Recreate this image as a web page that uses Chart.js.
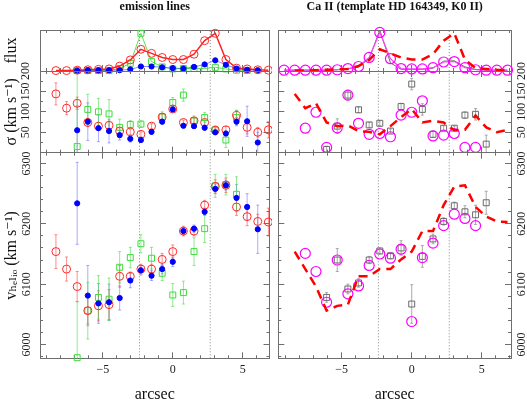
<!DOCTYPE html>
<html>
<head>
<meta charset="utf-8">
<script src="https://cdn.jsdelivr.net/npm/chart.js@4.4.1/dist/chart.umd.min.js"></script>
<style>
  html, body { margin: 0; padding: 0; background: #fff; }
  #page { position: relative; width: 527px; height: 400px; overflow: hidden; background: #fff; }
  canvas { position: absolute; }
</style>
</head>
<body>
<div id="page"></div>
<script>
// slit positions (arcsec)
const emPos = [-8.36, -7.60, -6.84, -6.08, -5.32, -4.56, -3.80, -3.04, -2.28, -1.52, -0.76, 0.00,
               0.76, 1.52, 2.28, 3.04, 3.80, 4.56, 5.32, 6.08, 6.84];
const caPos = [-9.12, -8.36, -7.60, -6.84, -6.08, -5.32, -4.56, -3.80, -3.04, -2.28, -1.52, -0.76, 0.00,
               0.76, 1.52, 2.28, 3.04, 3.80, 4.56, 5.32, 6.08, 6.84];
const dottedX = [-2.38, 2.68];

// emission lines
const fluxRed   = [0.01, 0.01, 0.02, 0.03, 0.04, 0.05, 0.12, 0.27, 0.53, 0.43, 0.33, 0.28, 0.28, 0.41, 0.74, 0.92, 0.28, 0.07, 0.05, 0.03, 0.02];
const fluxBlue  = [null, null, 0.01, 0.02, 0.02, 0.02, 0.02, 0.04, 0.11, 0.11, 0.09, 0.07, 0.06, 0.10, 0.16, 0.26, 0.15, 0.06, 0.03, 0.02, null];
const fluxGreen = [null, null, 0.01, 0.01, 0.01, 0.01, 0.06, 0.19, 0.92, 0.23, 0.10, 0.05, 0.06, 0.06, 0.06, 0.09, 0.05, 0.02, 0.01, null, null];

const sigRed      = [144, 109, 121, 74, 65, 67, 53, 51, 45, 65, 87, 107, 74, 78, 74, 55, 56, 91, 62, 50, 56];
const sigRedErr   = [27, 16, 15, 10, 9, 10, 8, 7, 6, 6, 7, 6, 6, 6, 6, 6, 8, 12, 16, 12, 20];
const sigBlue     = [null, null, 55, 76, 60, 53, 43, 34, 31, 51, 76, 106, 66, 65, 61, 50, 47, 76, 77, 25, null];
const sigBlueErr  = [null, null, 60, 46, 33, 29, 12, 8, 5, 6, 6, 6, 5, 5, 5, 6, 6, 10, 37, 25, null];
const sigGreen    = [null, null, 15, 106, 100, 95, 62, 69, 70, null, 88, 123, 141, 78, 86, 56, 31, 86, null, null, null];
const sigGreenErr = [null, null, 190, 37, 33, 35, 20, 10, 8, null, 12, 12, 15, 12, 12, 10, 18, 18, null, null, null];

const vRed      = [6154, 6125, 6096, 6056, 6064, 6066, 6113, 6113, 6125, 6125, 6141, 6154, 6188, 6188, 6231, 6262, 6264, 6228, 6212, 6204, 6203];
const vRedErr   = [28, 20, 25, 22, 25, 25, 18, 7, 8, 8, 10, 11, 8, 8, 8, 11, 12, 14, 15, 12, 23];
const vBlue     = [null, null, 6234, 6081, 6068, 6070, 6077, 6106, 6123, 6114, 6125, 6137, 6188, 6192, 6220, 6258, 6264, 6243, 6228, 6191, null];
const vBlueErr  = [null, null, 68, 50, 33, 30, 20, 12, 8, 8, 8, 8, 6, 6, 6, 8, 8, 22, 22, 40, null];
const vGreen    = [null, null, 5978, 6056, 6078, 6075, 6128, 6144, 6167, 6143, 6118, 6082, 6086, 6154, 6192, 6263, 6265, 6249, null, null, null];
const vGreenErr = [null, null, 93, 47, 36, 35, 26, 17, 15, 18, 12, 19, 19, 23, 23, 19, 17, 29, null, null, null];

// Ca II
const fluxMag  = [0.02, 0.02, 0.02, 0.02, 0.02, 0.03, 0.06, 0.11, 0.33, 0.94, 0.30, 0.06, 0.05, 0.05, 0.08, 0.22, 0.23, 0.08, 0.03, 0.02, 0.02, 0.02];
const fluxGrey = [0.02, 0.02, 0.02, 0.02, 0.02, 0.03, 0.05, 0.10, 0.30, 1.00, 0.20, 0.04, 0.04, 0.04, 0.07, 0.24, 0.25, 0.10, 0.04, 0.02, 0.02, 0.02];
const sigMag     = [null, null, 60, 99, 13, 61, 141, 72, 45, 47, 39, 92, 99, 127, 41, 43, 47, 13, 13, null, null, null];
const sigGrey    = [null, null, null, null, 8, 65, 141, 105, 68, 72, 53, 113, 168, 106, 45, 60, 60, 92, 94, 21, null, null];
const sigGreyErr = [null, null, null, null, 8, 18, 12, 7, 6, 6, 5, 8, 14, 14, 8, 6, 5, 8, 14, 22, null, null];
const vMag     = [null, null, 6151, 6121, 6070, 6140, 6084, 6097, 6131, 6150, 6143, 6158, 6038, 6144, 6168, 6197, 6216, 6209, 6197, null, null, null];
const vGrey    = [null, null, null, null, 6078, 6140, 6092, 6102, 6140, 6155, 6147, 6160, 6067, 6146, 6175, 6204, 6230, 6220, 6215, 6235, null, null];
const vGreyErr = [null, null, null, null, 8, 19, 8, 7, 6, 5, 5, 12, 32, 18, 8, 6, 6, 10, 16, 19, null, null];

// axes
const xTickLabels = [-5, 0, 5];
const sigmaTickLabels = [50, 100, 150, 200];
const vTickLabels = [6000, 6100, 6200, 6300];
const fluxRange = [0, 1];
const sigmaRange = [0, 200];
const vRange = [5977, 6318];

// page layout (canvas boxes and plot areas, px)
const COLS = [
  { left: 0, width: 272, l: 40, r: 269.5, xr: [-9.5, 6.92], title: 'emission lines' },
  { left: 275, width: 252, l: 278.3, r: 511, xr: [-9.53, 7.09], title: 'Ca II (template HD 164349, K0 II)' }
];
const ROWS = [
  { top: 0, height: 80, t: 30, b: 71, title: 'flux' },
  { top: 55, height: 110, t: 71, b: 152.7, title: 'σ (km s⁻¹)' },
  { top: 140, height: 260, t: 152.7, b: 358.3, title: 'vₕₑₗᵢₒ (km s⁻¹)' }
];

const AXIS = '#6e6e6e';
const SERIF = "'Liberation Serif', 'DejaVu Serif', serif";

// vertical error bars, drawn under the markers
const errorBars = {
  id: 'errorBars',
  beforeDatasetsDraw(chart) {
    const { ctx, chartArea } = chart;
    ctx.save();
    ctx.beginPath();
    ctx.rect(chartArea.left, chartArea.top, chartArea.right - chartArea.left, chartArea.bottom - chartArea.top);
    ctx.clip();
    chart.data.datasets.forEach(ds => {
      if (!ds.errors) return;
      const xs = chart.scales.x, ys = chart.scales.y;
      ctx.strokeStyle = ds.errorColor;
      ctx.lineWidth = 1;
      ds.data.forEach((p, j) => {
        const e = ds.errors[j];
        if (p.y === null || e === null) return;
        const px = xs.getPixelForValue(p.x);
        const hi = ys.getPixelForValue(p.y + e);
        const lo = ys.getPixelForValue(p.y - e);
        ctx.beginPath();
        ctx.moveTo(px, hi); ctx.lineTo(px, lo);
        ctx.moveTo(px - 1.5, hi); ctx.lineTo(px + 1.5, hi);
        ctx.moveTo(px - 1.5, lo); ctx.lineTo(px + 1.5, lo);
        ctx.stroke();
      });
    });
    ctx.restore();
  }
};

function points(xs, ys) {
  return xs.map((x, i) => ({ x: x, y: ys[i] }));
}

function sized(w, h) {
  return s => {
    if (w !== null) s.width = w;
    if (h !== null) s.height = h;
    s.paddingLeft = 0; s.paddingRight = 0; s.paddingTop = 0; s.paddingBottom = 0;
  };
}

function axis(position, range, step, size, opt) {
  const horizontal = position === 'top' || position === 'bottom';
  const labels = opt.labels || null;
  return {
    type: 'linear',
    position: position,
    min: range[0],
    max: range[1],
    weight: opt.major ? -1 : 0,
    afterFit: horizontal ? sized(null, size) : sized(size, null),
    border: { display: !opt.major, color: AXIS, width: 1 },
    grid: {
      display: !!step,
      drawOnChartArea: false,
      drawTicks: !!step,
      tickLength: opt.major ? -6 : -3,
      color: AXIS
    },
    ticks: {
      display: !!labels,
      stepSize: step || undefined,
      autoSkip: false,
      includeBounds: false,
      minRotation: horizontal ? 0 : 90,
      maxRotation: horizontal ? 0 : 90,
      crossAlign: horizontal ? 'near' : 'center',
      padding: opt.pad || 0,
      color: '#222',
      font: { family: SERIF, size: 12 },
      callback: v => (labels && labels.includes(v)) ? String(v).replace('-', '\u2212') : ''
    },
    title: opt.title
      ? { display: true, text: opt.title, color: '#111', font: opt.titleFont, padding: opt.titlePad }
      : { display: false }
  };
}

function panel(col, row, yRange, yStep, yMajor, yLabels, labelPad, datasets) {
  const c = COLS[col], r = ROWS[row];
  const cv = document.createElement('canvas');
  cv.width = c.width;
  cv.height = r.height;
  cv.style.left = c.left + 'px';
  cv.style.top = r.top + 'px';
  document.getElementById('page').appendChild(cv);

  const topH = r.t - r.top, botH = r.top + r.height - r.b;
  const leftW = c.l - c.left, rightW = c.left + c.width - c.r;

  const scales = {
    x: axis('bottom', c.xr, 1, botH, {
      labels: row === 2 ? xTickLabels : null, pad: 7.5,
      title: row === 2 ? 'arcsec' : null,
      titleFont: { family: SERIF, size: 16 }, titlePad: { top: 0, bottom: -4.5 }
    }),
    x2: axis('top', c.xr, 1, topH, {
      title: row === 0 ? c.title : null,
      titleFont: { family: SERIF, size: 12, weight: 'bold' }, titlePad: { top: 0, bottom: 0 }
    }),
    xM: axis('bottom', c.xr, 5, 0, { major: true }),
    x2M: axis('top', c.xr, 5, 0, { major: true }),
    y: axis('left', yRange, yStep, leftW, {
      labels: col === 0 ? yLabels : null, pad: labelPad,
      title: col === 0 ? r.title : null,
      titleFont: { family: SERIF, size: 16 }, titlePad: { top: 2, bottom: 0 }
    }),
    y2: axis('right', yRange, yStep, rightW, { labels: col === 1 ? yLabels : null, pad: labelPad })
  };
  if (yMajor) {
    scales.yM = axis('left', yRange, yMajor, 0, { major: true });
    scales.y2M = axis('right', yRange, yMajor, 0, { major: true });
  }

  const guides = dottedX.map(x => ({
    data: [{ x: x, y: yRange[0] }, { x: x, y: yRange[1] }],
    showLine: true, borderColor: '#8a8a8a', borderWidth: 1, borderDash: [1, 2],
    pointRadius: 0, order: 20, xAxisID: 'x', yAxisID: 'y'
  }));

  new Chart(cv, {
    type: 'scatter',
    data: { datasets: datasets.concat(guides) },
    options: {
      responsive: false,
      animation: false,
      devicePixelRatio: 1,
      events: [],
      layout: { padding: 0, autoPadding: false },
      plugins: { legend: { display: false }, tooltip: { enabled: false } },
      scales: scales
    },
    plugins: [errorBars]
  });
}

function series(xs, ys, style, errors, errorColor) {
  return Object.assign({
    data: points(xs, ys), xAxisID: 'x', yAxisID: 'y', clip: false,
    showLine: false, errors: errors || null, errorColor: errorColor
  }, style);
}

const RED = { pointStyle: 'circle', pointRadius: 4, pointBorderColor: '#ff2a2a', pointBackgroundColor: 'rgba(0,0,0,0)', pointBorderWidth: 1, borderColor: '#ff2020', borderWidth: 1.5 };
const BLUE = { pointStyle: 'circle', pointRadius: 2.6, pointBorderColor: '#0000ff', pointBackgroundColor: '#0000ff', pointBorderWidth: 1, borderColor: 'rgba(40,40,255,0.55)', borderWidth: 1 };
const GREEN = { pointStyle: 'rect', pointRadius: 4.2, pointBorderColor: '#3ddc3d', pointBackgroundColor: 'rgba(0,0,0,0)', pointBorderWidth: 1, borderColor: '#5ae35a', borderWidth: 1 };
const MAG = { pointStyle: 'circle', pointRadius: 5, pointBorderColor: '#ff00ff', pointBackgroundColor: 'rgba(0,0,0,0)', pointBorderWidth: 1.2, borderColor: '#ff40ff', borderWidth: 1.2 };
const GREY = { pointStyle: 'rect', pointRadius: 4.2, pointBorderColor: '#6a6a6a', pointBackgroundColor: 'rgba(0,0,0,0)', pointBorderWidth: 1, borderColor: '#6a6a6a', borderWidth: 1 };
const DASH = { pointRadius: 0, showLine: true, borderColor: '#ff0000', borderWidth: 2.5, borderDash: [9, 6] };

const ERR_RED = 'rgba(255,70,70,0.6)';
const ERR_BLUE = 'rgba(70,70,255,0.45)';
const ERR_GREEN = 'rgba(70,220,70,0.6)';
const ERR_GREY = 'rgba(150,150,150,0.8)';

// emission lines column
panel(0, 0, fluxRange, 0, 0, null, 0, [
  series(emPos, fluxBlue, Object.assign({}, BLUE, { showLine: true, order: 0 })),
  series(emPos, fluxRed, Object.assign({}, RED, { showLine: true, order: 1 })),
  series(emPos, fluxGreen, Object.assign({}, GREEN, { showLine: true, order: 2 }))
]);
panel(0, 1, sigmaRange, 25, 50, sigmaTickLabels, 8, [
  series(emPos, sigBlue, Object.assign({}, BLUE, { order: 0 }), sigBlueErr, ERR_BLUE),
  series(emPos, sigRed, Object.assign({}, RED, { order: 1 }), sigRedErr, ERR_RED),
  series(emPos, sigGreen, Object.assign({}, GREEN, { order: 2 }), sigGreenErr, ERR_GREEN)
]);
panel(0, 2, vRange, 20, 100, vTickLabels, 4, [
  series(emPos, vBlue, Object.assign({}, BLUE, { order: 0 }), vBlueErr, ERR_BLUE),
  series(emPos, vRed, Object.assign({}, RED, { order: 1 }), vRedErr, ERR_RED),
  series(emPos, vGreen, Object.assign({}, GREEN, { order: 2 }), vGreenErr, ERR_GREEN)
]);

// Ca II column (dashed line: emission-line red series)
panel(1, 0, fluxRange, 0, 0, null, 0, [
  series(emPos, fluxRed, Object.assign({}, DASH, { order: 0 })),
  series(caPos, fluxMag, Object.assign({}, MAG, { showLine: true, order: 1 })),
  series(caPos, fluxGrey, Object.assign({}, GREY, { showLine: true, pointRadius: 0, order: 2 }))
]);
panel(1, 1, sigmaRange, 25, 50, sigmaTickLabels, 4.5, [
  series(emPos, sigRed, Object.assign({}, DASH, { order: 0 })),
  series(caPos, sigMag, Object.assign({}, MAG, { order: 1 })),
  series(caPos, sigGrey, Object.assign({}, GREY, { order: 2 }), sigGreyErr, ERR_GREY)
]);
panel(1, 2, vRange, 20, 100, vTickLabels, 1.5, [
  series(emPos, vRed, Object.assign({}, DASH, { order: 0 })),
  series(caPos, vMag, Object.assign({}, MAG, { order: 1 })),
  series(caPos, vGrey, Object.assign({}, GREY, { order: 2 }), vGreyErr, ERR_GREY)
]);
</script>
</body>
</html>
